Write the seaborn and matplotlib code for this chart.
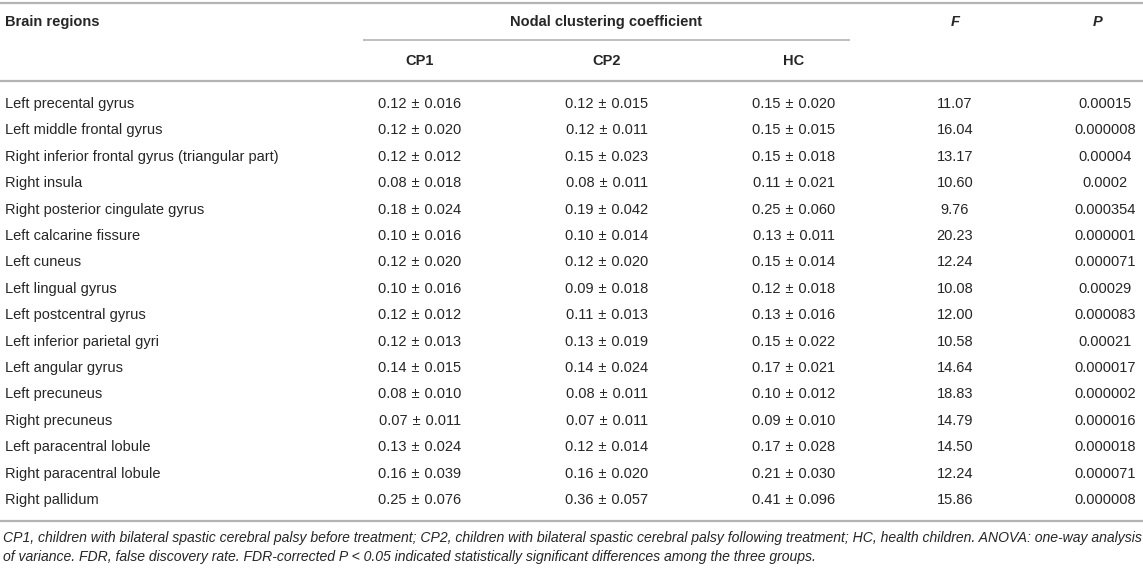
import matplotlib
matplotlib.use("Agg")
import matplotlib.pyplot as plt
import seaborn as sns

regions = [
    "Left precental gyrus", "Left middle frontal gyrus",
    "Right inferior frontal gyrus (triangular part)", "Right insula",
    "Right posterior cingulate gyrus", "Left calcarine fissure", "Left cuneus",
    "Left lingual gyrus", "Left postcentral gyrus", "Left inferior parietal gyri",
    "Left angular gyrus", "Left precuneus", "Right precuneus",
    "Left paracentral lobule", "Right paracentral lobule", "Right pallidum",
]
cp1_mean = [0.12, 0.12, 0.12, 0.08, 0.18, 0.10, 0.12, 0.10, 0.12, 0.12, 0.14, 0.08, 0.07, 0.13, 0.16, 0.25]
cp1_sd = [0.016, 0.020, 0.012, 0.018, 0.024, 0.016, 0.020, 0.016, 0.012, 0.013, 0.015, 0.010, 0.011, 0.024, 0.039, 0.076]
cp2_mean = [0.12, 0.12, 0.15, 0.08, 0.19, 0.10, 0.12, 0.09, 0.11, 0.13, 0.14, 0.08, 0.07, 0.12, 0.16, 0.36]
cp2_sd = [0.015, 0.011, 0.023, 0.011, 0.042, 0.014, 0.020, 0.018, 0.013, 0.019, 0.024, 0.011, 0.011, 0.014, 0.020, 0.057]
hc_mean = [0.15, 0.15, 0.15, 0.11, 0.25, 0.13, 0.15, 0.12, 0.13, 0.15, 0.17, 0.10, 0.09, 0.17, 0.21, 0.41]
hc_sd = [0.020, 0.015, 0.018, 0.021, 0.060, 0.011, 0.014, 0.018, 0.016, 0.022, 0.021, 0.012, 0.010, 0.028, 0.030, 0.096]
f_vals = [11.07, 16.04, 13.17, 10.60, 9.76, 20.23, 12.24, 10.08, 12.00, 10.58, 14.64, 18.83, 14.79, 14.50, 12.24, 15.86]
p_vals = ["0.00015", "0.000008", "0.00004", "0.0002", "0.000354", "0.000001", "0.000071",
          "0.00029", "0.000083", "0.00021", "0.000017", "0.000002", "0.000016", "0.000018",
          "0.000071", "0.000008"]
group_labels = ["CP1", "CP2", "HC"]
footnote_lines = [
    "CP1, children with bilateral spastic cerebral palsy before treatment; CP2, children with bilateral spastic cerebral palsy following treatment; HC, health children. ANOVA: one-way analysis",
    "of variance. FDR, false discovery rate. FDR-corrected P < 0.05 indicated statistically significant differences among the three groups.",
]

sns.set_theme(style="white")
plt.rcParams["font.family"] = ["Liberation Sans", "DejaVu Sans"]

W, H = 1143, 568
fig = plt.figure(figsize=(W / 100, H / 100), dpi=100)
ax = fig.add_axes([0, 0, 1, 1])
ax.set_xlim(0, W)
ax.set_ylim(H, 0)
ax.axis("off")

txt = "#262626"
line_c = "#b4b4b4"
fs = 10.5

# rules
ax.hlines([2.5, 81, 521], 0, W, color=line_c, lw=1.6)
ax.hlines(40, 363, 850, color=line_c, lw=1.2)

col_x = [420, 607, 794]
f_x, p_x = 955, 1105

# headers
ax.text(5, 22, "Brain regions", ha="left", va="center", fontsize=fs, fontweight="bold", color=txt)
ax.text(606, 22, "Nodal clustering coefficient", ha="center", va="center", fontsize=fs, fontweight="bold", color=txt)
ax.text(f_x, 22, "F", ha="center", va="center", fontsize=fs, fontweight="bold", style="italic", color=txt)
ax.text(p_x - 7, 22, "P", ha="center", va="center", fontsize=fs, fontweight="bold", style="italic", color=txt)
for x, lab in zip(col_x, group_labels):
    ax.text(x, 61, lab, ha="center", va="center", fontsize=fs, fontweight="bold", color=txt)

y0, dy = 104, (500 - 104) / 15
for i, r in enumerate(regions):
    y = y0 + i * dy
    ax.text(5, y, r, ha="left", va="center", fontsize=fs, color=txt)
    for x, m, s in zip(col_x, (cp1_mean, cp2_mean, hc_mean), (cp1_sd, cp2_sd, hc_sd)):
        ax.text(x, y, f"{m[i]:.2f}\u2004\u00b1\u2004{s[i]:.3f}", ha="center", va="center", fontsize=fs, color=txt)
    ax.text(f_x, y, f"{f_vals[i]:.2f}", ha="center", va="center", fontsize=fs, color=txt)
    ax.text(p_x, y, p_vals[i], ha="center", va="center", fontsize=fs, color=txt)

for k, line in enumerate(footnote_lines):
    ax.text(3, 538 + k * 19, line, ha="left", va="center", fontsize=10.1, style="italic", color=txt)

fig.savefig("out.png", dpi=100)
